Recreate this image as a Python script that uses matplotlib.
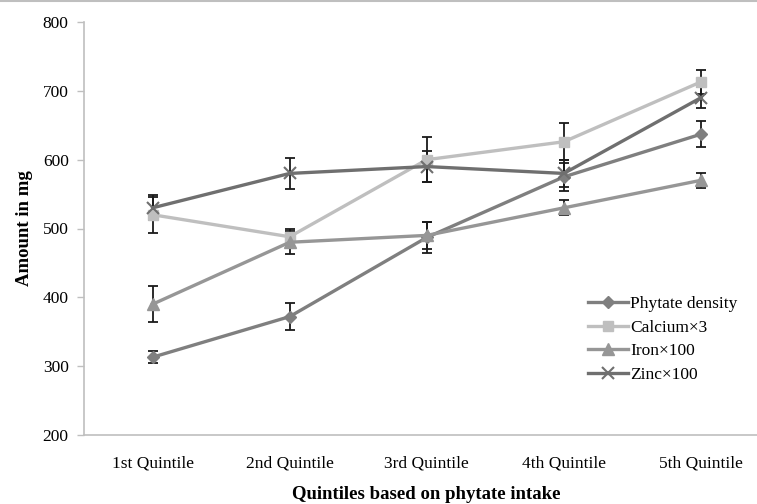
import matplotlib
matplotlib.use("Agg")
import matplotlib.pyplot as plt
from matplotlib.lines import Line2D
import numpy as np

categories = ["1st Quintile", "2nd Quintile", "3rd Quintile", "4th Quintile", "5th Quintile"]
phytate = [313, 372, 487, 575, 637]
phytate_err = [9, 20, 22, 20, 19]
calcium = [520, 488, 600, 626, 713]
calcium_err = [26, 12, 33, 27, 17]
iron = [390, 480, 490, 530, 570]
iron_err = [26, 17, 20, 11, 11]
zinc = [530, 580, 590, 580, 690]
zinc_err = [18, 22, 22, 20, 15]

plt.rcParams['font.family'] = ['Liberation Serif', 'DejaVu Serif']

fig = plt.figure(figsize=(7.57, 5.04), dpi=100)
ax = fig.add_axes([84/757, 1-435/504, (769.5-84)/757, (435-22)/504])

x = np.arange(len(categories))
series = [
    ("Phytate density", phytate, phytate_err, "#7f7f7f", "D", 6),
    ("Calcium\u00d73", calcium, calcium_err, "#bfbfbf", "s", 7.5),
    ("Iron\u00d7100", iron, iron_err, "#969696", "^", 8),
    ("Zinc\u00d7100", zinc, zinc_err, "#6f6f6f", "x", 8),
]

for name, vals, err, col, mk, ms in series:
    ax.errorbar(x, vals, yerr=err, fmt='none', ecolor='#1a1a1a', elinewidth=1.3,
                capsize=3.5, capthick=1.3, zorder=2)
for name, vals, err, col, mk, ms in series:
    ax.plot(x, vals, color=col, lw=2.4, marker=mk, markersize=ms,
            markeredgecolor=col, markerfacecolor=col, markeredgewidth=1.5 if mk == 'x' else 1,
            label=name, zorder=3)

ax.set_xlim(-0.5, 4.5)
ax.set_ylim(200, 800)
ax.set_yticks(range(200, 801, 100))
ax.set_xticks(x)
ax.set_xticklabels(categories)
ax.tick_params(axis='x', length=0, pad=15, labelsize=12.5, colors='black')
ax.tick_params(axis='y', length=5, width=1, color='#bfbfbf', pad=6, labelsize=12.5, direction='out')
for s in ['top', 'right']:
    ax.spines[s].set_visible(False)
for s in ['left', 'bottom']:
    ax.spines[s].set_color('#bfbfbf')
    ax.spines[s].set_linewidth(1.2)

ax.set_ylabel("Amount in mg", fontsize=13.5, fontweight='bold', labelpad=7)
ax.set_xlabel("Quintiles based on phytate intake", fontsize=13.5, fontweight='bold', labelpad=10)

leg = ax.legend(loc='upper left', bbox_to_anchor=(583/757, 1-291/504),
                bbox_transform=fig.transFigure, frameon=False, fontsize=12.5,
                handlelength=2.3, handletextpad=0.1, labelspacing=0.42,
                borderaxespad=0, borderpad=0.3)

fig.add_artist(Line2D([0, 1], [1-1/504, 1-1/504], color='#bfbfbf', lw=1.5, transform=fig.transFigure))

fig.savefig("out.png", dpi=100)
